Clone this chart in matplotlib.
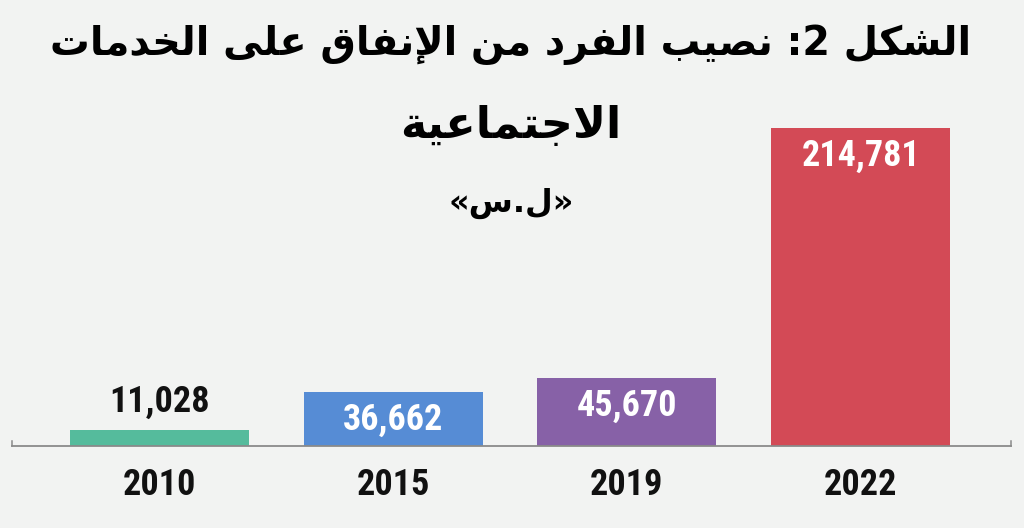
import matplotlib
matplotlib.use("Agg")
import matplotlib.pyplot as plt
from matplotlib import font_manager

# ---------------- data ----------------
years = ["2010", "2015", "2019", "2022"]
values = [11028, 36662, 45670, 214781]
value_labels = ["11,028", "36,662", "45,670", "214,781"]
bar_colors = ["#55BB9C", "#568CD5", "#8761A7", "#D34A56"]
title_line1 = "الشكل 2: نصيب الفرد من الإنفاق على الخدمات"
title_line2 = "الاجتماعية"
title_line3 = "«ل.س»"

# ---------------- minimal Arabic shaping ----------------
FORMS = {  # isolated, final, initial, medial
    'ا': (0xFE8D, 0xFE8E, None, None), 'إ': (0xFE87, 0xFE88, None, None),
    'أ': (0xFE83, 0xFE84, None, None), 'آ': (0xFE81, 0xFE82, None, None),
    'ب': (0xFE8F, 0xFE90, 0xFE91, 0xFE92), 'ة': (0xFE93, 0xFE94, None, None),
    'ت': (0xFE95, 0xFE96, 0xFE97, 0xFE98), 'ج': (0xFE9D, 0xFE9E, 0xFE9F, 0xFEA0),
    'خ': (0xFEA5, 0xFEA6, 0xFEA7, 0xFEA8), 'د': (0xFEA9, 0xFEAA, None, None),
    'ر': (0xFEAD, 0xFEAE, None, None), 'س': (0xFEB1, 0xFEB2, 0xFEB3, 0xFEB4),
    'ش': (0xFEB5, 0xFEB6, 0xFEB7, 0xFEB8), 'ص': (0xFEB9, 0xFEBA, 0xFEBB, 0xFEBC),
    'ع': (0xFEC9, 0xFECA, 0xFECB, 0xFECC), 'ف': (0xFED1, 0xFED2, 0xFED3, 0xFED4),
    'ق': (0xFED5, 0xFED6, 0xFED7, 0xFED8), 'ك': (0xFED9, 0xFEDA, 0xFEDB, 0xFEDC),
    'ل': (0xFEDD, 0xFEDE, 0xFEDF, 0xFEE0), 'م': (0xFEE1, 0xFEE2, 0xFEE3, 0xFEE4),
    'ن': (0xFEE5, 0xFEE6, 0xFEE7, 0xFEE8), 'ى': (0xFEEF, 0xFEF0, None, None),
    'ي': (0xFEF1, 0xFEF2, 0xFEF3, 0xFEF4),
}
LAMALEF = {'ا': (0xFEFB, 0xFEFC), 'إ': (0xFEF9, 0xFEFA),
           'أ': (0xFEF7, 0xFEF8), 'آ': (0xFEF5, 0xFEF6)}
MIRROR = {'«': '»', '»': '«', '(': ')', ')': '('}


def shape(text):
    toks = []
    i = 0
    while i < len(text):
        c = text[i]
        if c == 'ل' and i + 1 < len(text) and text[i + 1] in LAMALEF:
            toks.append(('LA', text[i + 1]))
            i += 2
        else:
            toks.append(('C', c))
            i += 1

    def is_ar(t):
        return t[0] == 'LA' or t[1] in FORMS

    def joins_left(t):
        return t[0] == 'C' and t[1] in FORMS and FORMS[t[1]][2] is not None

    out = []
    for k, t in enumerate(toks):
        prev_j = k > 0 and joins_left(toks[k - 1])
        nxt = k + 1 < len(toks) and is_ar(toks[k + 1])
        if t[0] == 'LA':
            iso, fin = LAMALEF[t[1]]
            out.append(chr(fin if prev_j else iso))
            continue
        c = t[1]
        if c not in FORMS:
            out.append(MIRROR.get(c, c))
            continue
        iso, fin, ini, med = FORMS[c]
        nxt_j = nxt and ini is not None
        if prev_j and nxt_j:
            out.append(chr(med))
        elif prev_j:
            out.append(chr(fin))
        elif nxt_j:
            out.append(chr(ini))
        else:
            out.append(chr(iso))
    return ''.join(reversed(out))


# ---------------- fonts ----------------
names = {f.name for f in font_manager.fontManager.ttflist}
num_font = "DejaVu Sans"
for cand in ["Roboto Condensed", "Liberation Sans Narrow", "Roboto"]:
    if cand in names:
        num_font = cand
        break
num_kw = dict(family=num_font, fontweight="black", fontsize=26)

# ---------------- figure ----------------
W, H = 1024, 528
bg = "#F2F3F2"
fig = plt.figure(figsize=(W / 100, H / 100), dpi=100, facecolor=bg)
ax = fig.add_axes([12 / W, 82 / H, 999 / W, 446 / H])
ax.set_facecolor(bg)

x = list(range(len(years)))
ymax = max(values) * 446 / 318
ax.bar(x, values, width=0.765, color=bar_colors, zorder=2)
ax.set_xlim(-0.630, 3.643)
ax.set_ylim(0, ymax)

ax.spines["top"].set_visible(False)
for s in ["left", "right"]:
    ax.spines[s].set_color("#8A8A8A")
    ax.spines[s].set_linewidth(1.1)
    ax.spines[s].set_bounds(0, ymax * 5 / 446)
ax.spines["bottom"].set_color("#8A8A8A")
ax.spines["bottom"].set_linewidth(1.3)
ax.set_yticks([])
ax.set_xticks(x)
ax.set_xticklabels(years, color="#111111", **num_kw)
ax.tick_params(axis="x", length=0, pad=15)

for xi, v, lab in zip(x, values, value_labels):
    if v > max(values) * 0.1:
        ax.annotate(lab, (xi, v), xytext=(0, -7), textcoords="offset points",
                    ha="center", va="top", color="white", **num_kw)
    else:
        ax.annotate(lab, (xi, v), xytext=(0, 7), textcoords="offset points",
                    ha="center", va="bottom", color="#111111", **num_kw)

tfont = dict(family="DejaVu Sans", fontweight="bold", color="black", ha="center", va="center")
fig.text(511 / W, 1 - 45 / H, shape(title_line1), fontsize=28.5, **tfont)
fig.text(511 / W, 1 - 125 / H, shape(title_line2), fontsize=32, **tfont)
fig.text(511 / W, 1 - 203 / H, shape(title_line3), fontsize=23, **tfont)

fig.savefig("out.png", dpi=100, facecolor=bg)
